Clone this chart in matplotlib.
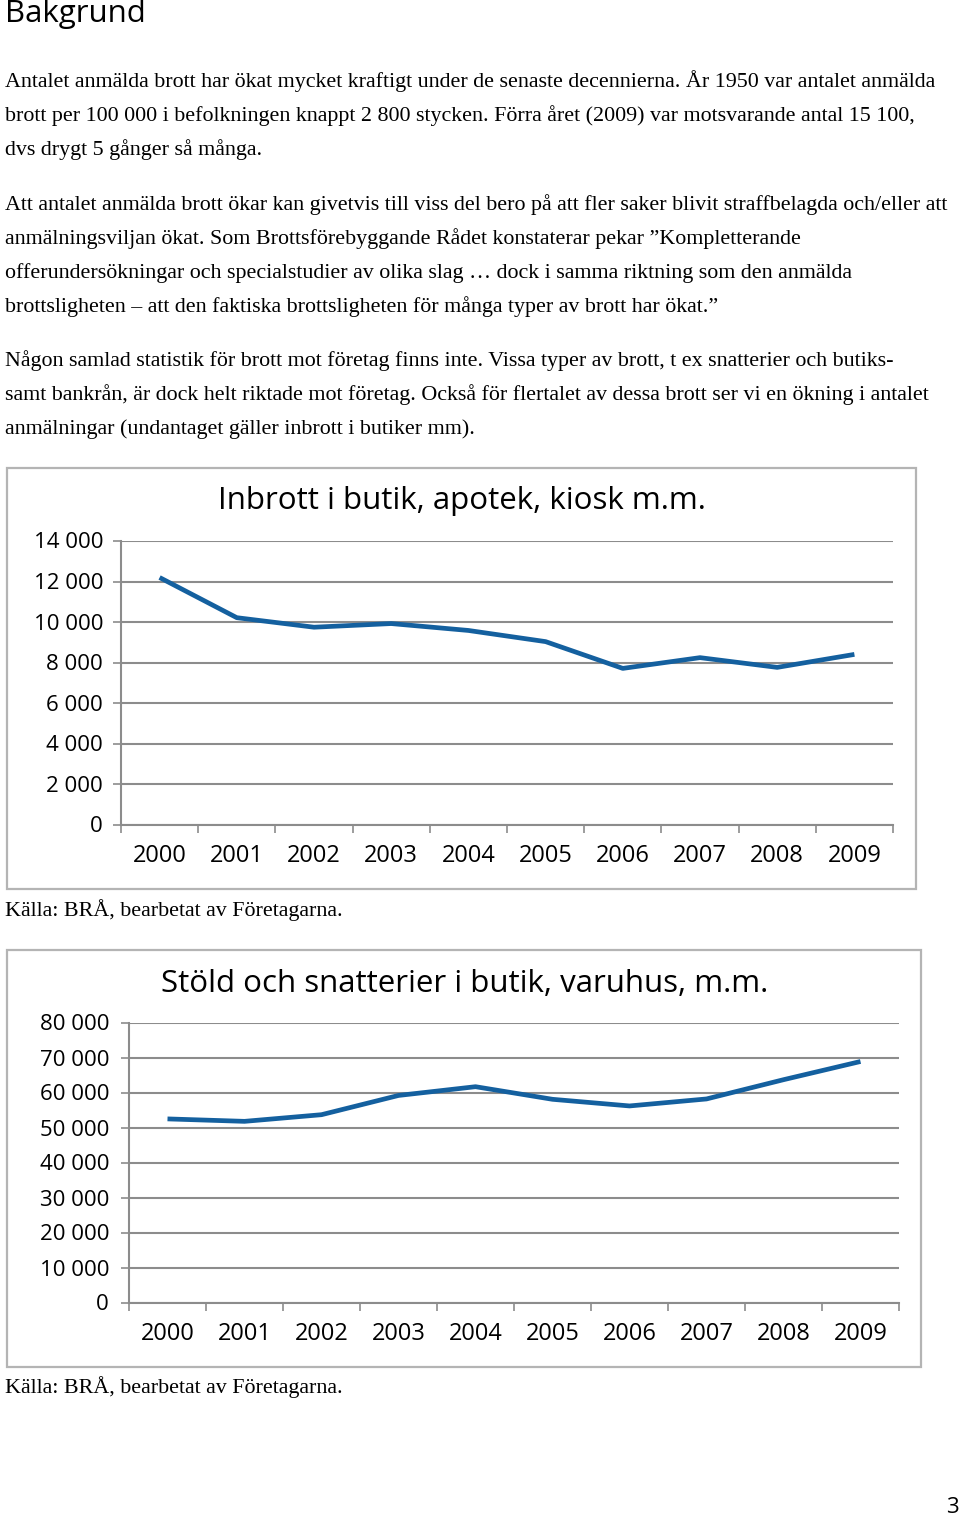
import matplotlib
matplotlib.use("Agg")
import matplotlib.pyplot as plt
from matplotlib.patches import Rectangle

W, H = 960, 1515

years = ["2000", "2001", "2002", "2003", "2004", "2005", "2006", "2007", "2008", "2009"]

inbrott = [12200, 10220, 9750, 9930, 9590, 9040, 7720, 8250, 7770, 8410]
inbrott_ticks = [0, 2000, 4000, 6000, 8000, 10000, 12000, 14000]
inbrott_labels = ["0", "2 000", "4 000", "6 000", "8 000", "10 000", "12 000", "14 000"]

stold = [52600, 51900, 53800, 59300, 61800, 58200, 56300, 58300, 63800, 69000]
stold_ticks = [0, 10000, 20000, 30000, 40000, 50000, 60000, 70000, 80000]
stold_labels = ["0", "10 000", "20 000", "30 000", "40 000", "50 000", "60 000", "70 000", "80 000"]

body_lines = [
    "Antalet anmälda brott har ökat mycket kraftigt under de senaste decennierna. År 1950 var antalet anmälda",
    "brott per 100 000 i befolkningen knappt 2 800 stycken. Förra året (2009) var motsvarande antal 15 100,",
    "dvs drygt 5 gånger så många.",
    "Att antalet anmälda brott ökar kan givetvis till viss del bero på att fler saker blivit straffbelagda och/eller att",
    "anmälningsviljan ökat. Som Brottsförebyggande Rådet konstaterar pekar ”Kompletterande",
    "offerundersökningar och specialstudier av olika slag … dock i samma riktning som den anmälda",
    "brottsligheten – att den faktiska brottsligheten för många typer av brott har ökat.”",
    "Någon samlad statistik för brott mot företag finns inte. Vissa typer av brott, t ex snatterier och butiks-",
    "samt bankrån, är dock helt riktade mot företag. Också för flertalet av dessa brott ser vi en ökning i antalet",
    "anmälningar (undantaget gäller inbrott i butiker mm).",
]
body_baselines = [87, 121, 155, 210, 244, 278, 312, 366, 400, 434]

SANS = ["Open Sans", "DejaVu Sans"]
SERIF = ["Liberation Serif", "DejaVu Serif"]
LINE = "#14609f"
GRID = "#8c8c8c"
BODY_SIZE = 15.8

fig = plt.figure(figsize=(W / 100, H / 100), dpi=100)


def fy(py):
    return 1 - py / H


def fx(px):
    return px / W


fig.text(fx(5), fy(22), "Bakgrund", family=SANS, fontsize=22.5, va="baseline", ha="left")
for line, base in zip(body_lines, body_baselines):
    fig.text(fx(5), fy(base), line, family=SERIF, fontsize=BODY_SIZE, va="baseline", ha="left")


def chart(box, area, title, title_xy, values, ticks, labels, label_x, xlabel_y, source_y):
    bx0, by0, bx1, by1 = box
    fig.patches.append(Rectangle((fx(bx0), fy(by1)), fx(bx1 - bx0), (by1 - by0) / H,
                                 transform=fig.transFigure, fill=False,
                                 edgecolor="#b4b4b4", linewidth=1.6))
    x0, y0, x1, y1 = area
    ax = fig.add_axes([fx(x0), fy(y1), fx(x1 - x0), (y1 - y0) / H])
    ax.plot(range(len(values)), values, color=LINE, linewidth=3.4, solid_capstyle="butt", zorder=3)
    ax.set_xlim(-0.5, len(values) - 0.5)
    ax.set_ylim(ticks[0], ticks[-1])
    ax.set_yticks(ticks)
    ax.set_yticklabels([])
    ax.yaxis.grid(True, color=GRID, linewidth=1.5)
    ax.set_xticks([i - 0.5 for i in range(len(values) + 1)])
    ax.set_xticklabels([])
    ax.tick_params(axis="both", length=6, width=1.2, color=GRID)
    for s in ("top", "right"):
        ax.spines[s].set_visible(False)
    for s in ("left", "bottom"):
        ax.spines[s].set_color(GRID)
        ax.spines[s].set_linewidth(1.5)
    ax.set_facecolor("none")
    # tick labels placed in figure space
    for t, lab in zip(ticks, labels):
        py = y1 - (t - ticks[0]) / (ticks[-1] - ticks[0]) * (y1 - y0)
        fig.text(fx(label_x), fy(py + 2), lab, family=SANS, fontsize=16, ha="right", va="center")
    step = (x1 - x0) / len(values)
    for i, yr in enumerate(years):
        fig.text(fx(x0 + step * (i + 0.5)), fy(xlabel_y), yr, family=SANS, fontsize=17,
                 ha="center", va="center")
    fig.text(fx(title_xy[0]), fy(title_xy[1]), title, family=SANS, fontsize=22.5,
             ha="center", va="center")
    fig.text(fx(5), fy(source_y), "Källa: BRÅ, bearbetat av Företagarna.", family=SERIF,
             fontsize=BODY_SIZE, ha="left", va="baseline")


chart((7, 468, 916, 889), (121, 541, 893, 825), "Inbrott i butik, apotek, kiosk m.m.",
      (462, 501), inbrott, inbrott_ticks, inbrott_labels, 103, 856, 916)
chart((7, 950, 921, 1367), (129, 1023, 899, 1303), "Stöld och snatterier i butik, varuhus, m.m.",
      (465, 984), stold, stold_ticks, stold_labels, 109, 1334, 1393)

fig.text(fx(959), fy(1513), "3", family=SANS, fontsize=16, ha="right", va="baseline")

fig.savefig("out.png", dpi=100)
